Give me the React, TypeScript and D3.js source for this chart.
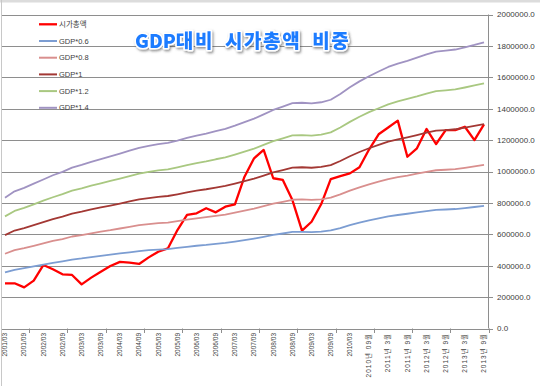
import * as d3 from 'd3';
import React from 'react';

// quarterly categories, 2001/03 .. 2013/09
const categories = [
  "2001/03", "2001/06", "2001/09", "2001/12", "2002/03", "2002/06", "2002/09", "2002/12",
  "2003/03", "2003/06", "2003/09", "2003/12", "2004/03", "2004/06", "2004/09", "2004/12",
  "2005/03", "2005/06", "2005/09", "2005/12", "2006/03", "2006/06", "2006/09", "2006/12",
  "2007/03", "2007/06", "2007/09", "2007/12", "2008/03", "2008/06", "2008/09", "2008/12",
  "2009/03", "2009/06", "2009/09", "2009/12", "2010/03", "2010/06", "2010년 09월", "2010년 12월",
  "2011년 3월", "2011년 6월", "2011년 9월", "2011년 12월", "2012년 3월", "2012년 6월", "2012년 9월", "2012년 12월",
  "2013년 3월", "2013년 6월", "2013년 9월",
];

// values in thousands
const marketCap = [
  288, 288, 262, 305, 404, 377, 345, 341, 281, 324, 362, 398, 424, 419, 411, 453, 489, 510,
  627, 723, 734, 766, 740, 776, 791, 967, 1084, 1137, 957, 946, 818, 623, 680, 791, 952, 971,
  988, 1027, 1140, 1237, 1280, 1324, 1094, 1148, 1271, 1175, 1264, 1264, 1285, 1200, 1300,
];
const gdp06 = [
  357, 374, 384, 395, 407, 418, 428, 439, 446, 455, 463, 470, 478, 485, 493, 499, 503, 506,
  513, 520, 527, 532, 539, 545, 554, 563, 573, 584, 596, 605, 615, 616, 614, 617, 625, 640,
  658, 674, 689, 701, 714, 723, 731, 739, 748, 756, 758, 761, 767, 774, 781,
];
const gdp08 = [
  476, 499, 512, 527, 542, 558, 570, 586, 595, 606, 617, 626, 637, 647, 658, 665, 671, 675,
  684, 694, 702, 710, 718, 726, 738, 751, 764, 779, 795, 807, 820, 822, 819, 823, 833, 854,
  878, 899, 918, 935, 952, 964, 974, 986, 998, 1008, 1011, 1015, 1023, 1032, 1042,
];
const gdp10 = [
  595, 624, 640, 659, 678, 697, 713, 732, 744, 758, 771, 783, 796, 809, 822, 831, 839, 844,
  855, 867, 878, 887, 898, 908, 923, 939, 955, 974, 994, 1009, 1025, 1027, 1024, 1029, 1041, 1067,
  1097, 1124, 1148, 1169, 1190, 1205, 1218, 1232, 1247, 1260, 1264, 1269, 1279, 1290, 1302,
];
const gdp12 = [
  714, 749, 768, 791, 814, 836, 856, 878, 893, 910, 925, 940, 955, 971, 986, 997, 1007, 1013,
  1026, 1040, 1054, 1064, 1078, 1090, 1108, 1127, 1146, 1169, 1193, 1211, 1230, 1232, 1229, 1235, 1249, 1280,
  1316, 1349, 1378, 1403, 1428, 1446, 1462, 1478, 1496, 1512, 1517, 1523, 1535, 1548, 1562,
];
const gdp14 = [
  833, 874, 896, 923, 949, 976, 998, 1025, 1042, 1061, 1079, 1096, 1114, 1133, 1151, 1163, 1175, 1182,
  1197, 1214, 1229, 1242, 1257, 1271, 1292, 1315, 1337, 1364, 1392, 1413, 1435, 1438, 1434, 1441, 1457, 1494,
  1536, 1574, 1607, 1637, 1666, 1687, 1705, 1725, 1746, 1764, 1770, 1777, 1791, 1806, 1823,
];

const seriesNames = ["시가총액", "GDP*0.6", "GDP*0.8", "GDP*1", "GDP*1.2", "GDP*1.4"];
const seriesColors = ["#ff0000", "#7c9dd2", "#d98f8e", "#a33834", "#a9c881", "#a093c2"];
const seriesValues = [marketCap, gdp06, gdp08, gdp10, gdp12, gdp14];

const yTicks = [0, 200000, 400000, 600000, 800000, 1000000, 1200000, 1400000, 1600000, 1800000, 2000000];

const W = 540, H = 386;
const font = "'Liberation Sans', Arial, 'Noto Sans CJK KR', sans-serif";

export default function App() {
  const x = d3.scaleBand<string>().domain(categories).range([0.2, 488.8]).padding(0);
  const cx = (c: string) => (x(c) as number) + x.bandwidth() / 2;
  const y = d3.scaleLinear().domain([0, 2000000]).range([328.5, 14.5]);
  const fmt = d3.format(".1f");

  const line = d3.line<number>()
    .x((_, i) => cx(categories[i]))
    .y(d => y(d * 1000));

  // tick marks every 4 quarters, on band boundaries
  const tickBounds = d3.range(3, categories.length + 1, 4).map(k => 0.2 + k * x.bandwidth());
  const labelCats = categories.filter((_, i) => i % 2 === 0);

  return (
    <svg width={W} height={H} style={{ position: "absolute", left: 0, top: 0, background: "#fff" }}>
      <defs>
        <filter id="shadow" x="-10%" y="-30%" width="120%" height="160%">
          <feDropShadow dx="1.2" dy="1.6" stdDeviation="0.9" floodColor="#444" floodOpacity="0.6" />
        </filter>
      </defs>
      <rect x={0} y={0} width={W} height={2.5} fill="#dcdcdc" />
      <line x1={1.5} x2={1.5} y1={0} y2={H} stroke="#c8c8c8" />

      {/* gridlines */}
      <g stroke="#8e8e8e" strokeWidth={1}>
        {yTicks.map(t => (
          <line key={t} x1={2} x2={489} y1={Math.round(y(t)) + 0.5} y2={Math.round(y(t)) + 0.5} />
        ))}
      </g>

      {/* right axis */}
      <g stroke="#8e8e8e" strokeWidth={1}>
        <line x1={488.5} x2={488.5} y1={y(2000000)} y2={y(0)} />
        {yTicks.map(t => (
          <line key={t} x1={488.5} x2={493} y1={Math.round(y(t)) + 0.5} y2={Math.round(y(t)) + 0.5} />
        ))}
      </g>
      <g fontFamily={font} fontSize={8} fill="#404040">
        {yTicks.map(t => (
          <text key={t} x={497} y={y(t)} dy="0.35em">{fmt(t)}</text>
        ))}
      </g>

      {/* bottom axis */}
      <g stroke="#8e8e8e" strokeWidth={1}>
        {tickBounds.map((b, i) => (
          <line key={i} x1={Math.round(b) + 0.5} x2={Math.round(b) + 0.5} y1={328.5} y2={333} />
        ))}
      </g>
      <g fontFamily={font} fontSize={6.5} fill="#404040">
        {labelCats.map(c => (
          <text
            key={c}
            transform={`translate(${cx(c)},333) rotate(-90)`}
            textAnchor="end"
            dy="0.35em"
            letterSpacing={c.includes("년") ? 1 : 0}
          >
            {c}
          </text>
        ))}
      </g>

      {/* series */}
      <g fill="none" strokeLinejoin="round">
        {seriesValues.map((vals, i) => (
          <path
            key={seriesNames[i]}
            d={line(vals) as string}
            stroke={seriesColors[i]}
            strokeWidth={i === 0 ? 2.3 : 1.8}
          />
        ))}
      </g>

      {/* legend */}
      <g fontFamily={font} fontSize={7.5} fill="#404040">
        {seriesNames.map((n, i) => {
          const ly = 24.3 + i * 16.7;
          return (
            <g key={n}>
              <line x1={39} x2={57} y1={ly} y2={ly} stroke={seriesColors[i]} strokeWidth={i === 0 ? 2.3 : 2} />
              <text x={59} y={ly} dy="0.35em">{n}</text>
            </g>
          );
        })}
      </g>

      {/* title */}
      <text
        x={135}
        y={48}
        fontFamily="'Noto Sans CJK KR', sans-serif"
        fontWeight={900}
        fill="#1f7bff"
        stroke="#ffffff"
        strokeWidth={3.2}
        paintOrder="stroke"
        strokeLinejoin="round"
        filter="url(#shadow)"
      >
        <tspan fontSize={19}>GDP</tspan>
        <tspan fontSize={19} letterSpacing={1.6} wordSpacing={5}>대비 시가총액 비중</tspan>
      </text>
    </svg>
  );
}
